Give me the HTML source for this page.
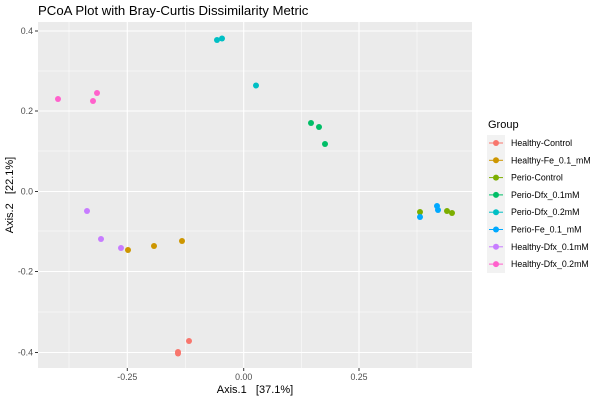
<!DOCTYPE html>
<html><head><style>body{margin:0;background:#fff}text{white-space:pre}</style></head><body>
<svg width="600" height="400" xmlns="http://www.w3.org/2000/svg" font-family="Liberation Sans, sans-serif">
<rect width="600" height="400" fill="#fff"/>
<text x="38" y="15" font-size="13.2" fill="#000">PCoA Plot with Bray-Curtis Dissimilarity Metric</text>
<rect x="38" y="22" width="434" height="346" fill="#EBEBEB"/>
<g stroke="#fff" stroke-width="0.5">
<line x1="38" x2="472" y1="71" y2="71"/><line x1="38" x2="472" y1="151" y2="151"/><line x1="38" x2="472" y1="231" y2="231"/><line x1="38" x2="472" y1="312" y2="312"/>
<line x1="69" x2="69" y1="22" y2="368"/><line x1="185.5" x2="185.5" y1="22" y2="368"/><line x1="301.5" x2="301.5" y1="22" y2="368"/><line x1="417" x2="417" y1="22" y2="368"/>
</g>
<g stroke="#fff" stroke-width="1.1">
<line x1="38" x2="472" y1="31" y2="31"/><line x1="38" x2="472" y1="111" y2="111"/><line x1="38" x2="472" y1="191.5" y2="191.5"/><line x1="38" x2="472" y1="271.5" y2="271.5"/><line x1="38" x2="472" y1="352.5" y2="352.5"/>
<line x1="127.3" x2="127.3" y1="22" y2="368"/><line x1="243.7" x2="243.7" y1="22" y2="368"/><line x1="359" x2="359" y1="22" y2="368"/>
</g>
<g stroke="#333" stroke-width="1">
<line x1="35" x2="38" y1="31" y2="31"/><line x1="35" x2="38" y1="111" y2="111"/><line x1="35" x2="38" y1="191.5" y2="191.5"/><line x1="35" x2="38" y1="271.5" y2="271.5"/><line x1="35" x2="38" y1="352.5" y2="352.5"/>
<line x1="127.3" x2="127.3" y1="368" y2="371"/><line x1="243.7" x2="243.7" y1="368" y2="371"/><line x1="359" x2="359" y1="368" y2="371"/>
</g>
<g font-size="8.8" fill="#4D4D4D" text-anchor="end">
<text x="33" y="34">0.4</text><text x="33" y="114">0.2</text><text x="33" y="194.5">0.0</text><text x="33" y="274.5">-0.2</text><text x="33" y="355.5">-0.4</text>
</g>
<g font-size="8.8" fill="#4D4D4D" text-anchor="middle">
<text x="127.3" y="380">-0.25</text><text x="243.7" y="380">0.00</text><text x="359" y="380">0.25</text>
</g>
<text x="255" y="393" font-size="11" text-anchor="middle" xml:space="preserve">Axis.1   [37.1%]</text>
<text transform="translate(13,195) rotate(-90)" font-size="11" text-anchor="middle" xml:space="preserve">Axis.2   [22.1%]</text>
<g>
<g fill="#FF61CC"><circle cx="58" cy="99" r="3"/><circle cx="93" cy="101" r="3"/><circle cx="97" cy="93" r="3"/></g>
<g fill="#00BFC4"><circle cx="217" cy="40" r="3"/><circle cx="222" cy="38.5" r="3"/><circle cx="256" cy="85.5" r="3"/></g>
<g fill="#00BE67"><circle cx="311" cy="123" r="3"/><circle cx="319" cy="127" r="3"/><circle cx="325" cy="144" r="3"/></g>
<g fill="#7CAE00"><circle cx="420" cy="212" r="3"/><circle cx="447" cy="211" r="3"/><circle cx="452" cy="213" r="3"/></g>
<g fill="#00A9FF"><circle cx="420" cy="217" r="3"/><circle cx="437" cy="206" r="3"/><circle cx="438" cy="210" r="3"/></g>
<g fill="#C77CFF"><circle cx="87" cy="211" r="3"/><circle cx="101" cy="239" r="3"/><circle cx="121" cy="248" r="3"/></g>
<g fill="#CD9600"><circle cx="128" cy="250" r="3"/><circle cx="154" cy="246" r="3"/><circle cx="182" cy="241" r="3"/></g>
<g fill="#F8766D"><circle cx="178" cy="352" r="3"/><circle cx="178" cy="353.5" r="3"/><circle cx="189" cy="341" r="3"/></g>
</g>
<text x="488" y="128" font-size="11">Group</text>
<rect x="487" y="135" width="18" height="138" fill="#F2F2F2"/>
<g font-size="8.8" fill="#000">
<g transform="translate(0,143)"><line x1="489" x2="503" stroke="#F8766D"/><circle cx="496" r="3" fill="#F8766D"/><text x="511" y="3">Healthy-Control</text></g>
<g transform="translate(0,160.3)"><line x1="489" x2="503" stroke="#CD9600"/><circle cx="496" r="3" fill="#CD9600"/><text x="511" y="3">Healthy-Fe_0.1_mM</text></g>
<g transform="translate(0,177.6)"><line x1="489" x2="503" stroke="#7CAE00"/><circle cx="496" r="3" fill="#7CAE00"/><text x="511" y="3">Perio-Control</text></g>
<g transform="translate(0,194.9)"><line x1="489" x2="503" stroke="#00BE67"/><circle cx="496" r="3" fill="#00BE67"/><text x="511" y="3">Perio-Dfx_0.1mM</text></g>
<g transform="translate(0,212.2)"><line x1="489" x2="503" stroke="#00BFC4"/><circle cx="496" r="3" fill="#00BFC4"/><text x="511" y="3">Perio-Dfx_0.2mM</text></g>
<g transform="translate(0,229.5)"><line x1="489" x2="503" stroke="#00A9FF"/><circle cx="496" r="3" fill="#00A9FF"/><text x="511" y="3">Perio-Fe_0.1_mM</text></g>
<g transform="translate(0,246.8)"><line x1="489" x2="503" stroke="#C77CFF"/><circle cx="496" r="3" fill="#C77CFF"/><text x="511" y="3">Healthy-Dfx_0.1mM</text></g>
<g transform="translate(0,264.1)"><line x1="489" x2="503" stroke="#FF61CC"/><circle cx="496" r="3" fill="#FF61CC"/><text x="511" y="3">Healthy-Dfx_0.2mM</text></g>
</g>
</svg>
</body></html>
